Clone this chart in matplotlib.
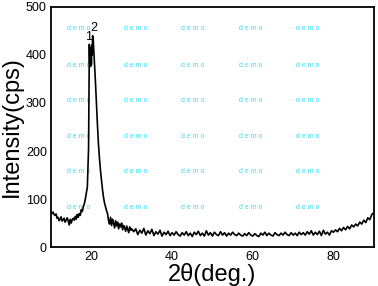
import numpy as np
import matplotlib
matplotlib.use('Agg')
import matplotlib.pyplot as plt

plt.rcParams['font.family'] = ['Liberation Sans', 'DejaVu Sans']

# 2theta grid: fine steps across the double peak, coarser elsewhere
theta_a = np.arange(10.0, 19.01, 0.25)
counts_a = [72, 70, 73, 68, 66, 69, 60, 62, 55, 58, 63, 54, 57, 60, 52, 56,
            61, 55, 46, 58, 50, 57, 60, 56, 64, 58, 68, 62, 70, 66, 78, 74,
            84, 90, 100, 112, 125]

theta_p = np.arange(19.1, 20.51, 0.1)
counts_p = [150, 175, 205, 320, 422, 380, 415, 376, 412, 380, 420, 400, 440, 438, 425]

theta_c = np.arange(20.75, 30.01, 0.25)
counts_c = [385, 345, 300, 255, 215, 185, 160, 140, 120, 104, 92, 84, 76, 70, 55, 48,
            62, 45, 58, 50, 40, 55, 44, 52, 38, 48, 42, 50, 36, 45, 40, 33,
            44, 37, 30, 42, 35, 38]

theta_b = np.arange(30.5, 90.01, 0.5)
counts_b = [32, 38, 26, 35, 29, 39, 25, 34, 28, 37, 24, 32, 27, 35, 23, 31, 26, 33, 24, 30,
            25, 32, 26, 23, 30, 25, 32, 24, 29, 22, 31, 26, 33, 24, 29, 23, 34, 25, 30, 23,
            31, 26, 24, 32, 25, 30, 23, 29, 25, 31, 26, 24, 29, 25, 23, 28, 24, 30, 25, 23,
            28, 24, 22, 29, 25, 31, 24, 29, 25, 23, 30, 26, 24, 29, 25, 31, 26, 24, 30, 25,
            29, 24, 31, 26, 30, 25, 32, 27, 34, 25, 31, 26, 33, 24, 35, 27, 31, 25, 34, 31,
            36, 32, 39, 34, 41, 36, 43, 38, 46, 42, 48, 44, 52, 48, 56, 51, 61, 57, 68, 72]

two_theta = np.concatenate([theta_a, theta_p, theta_c, theta_b])
intensity = np.array(counts_a + counts_p + counts_c + counts_b)

peak_labels = ['1', '2']
peak_pos = [(19.2, 437), (20.6, 455)]

wm_x = [16.8, 31.1, 45.1, 59.6, 73.6]
wm_y = [454, 379, 306, 231, 158, 83]

fig = plt.figure(figsize=(3.78, 2.86), dpi=100)
ax = fig.add_axes([0.135, 0.136, 0.854, 0.84])

for wx in wm_x:
    for wy in wm_y:
        ax.text(wx, wy, 'd e m o', color='#33e0f5', fontsize=5,
                ha='center', va='center', zorder=0)

ax.plot(two_theta, intensity, color='black', lw=1.2)

for lab, (px, py) in zip(peak_labels, peak_pos):
    ax.text(px, py, lab, fontsize=9, ha='center', va='center')

ax.set_xlim(10, 90)
ax.set_ylim(0, 500)
ax.set_xticks([20, 40, 60, 80])
ax.set_yticks([0, 100, 200, 300, 400, 500])
ax.tick_params(length=0, labelsize=9, pad=3)
for s in ax.spines.values():
    s.set_linewidth(1.3)

ax.set_xlabel('2θ(deg.)', fontsize=17, labelpad=0)
ax.set_ylabel('Intensity(cps)', fontsize=17, labelpad=2)

fig.savefig('out.png', dpi=100)
